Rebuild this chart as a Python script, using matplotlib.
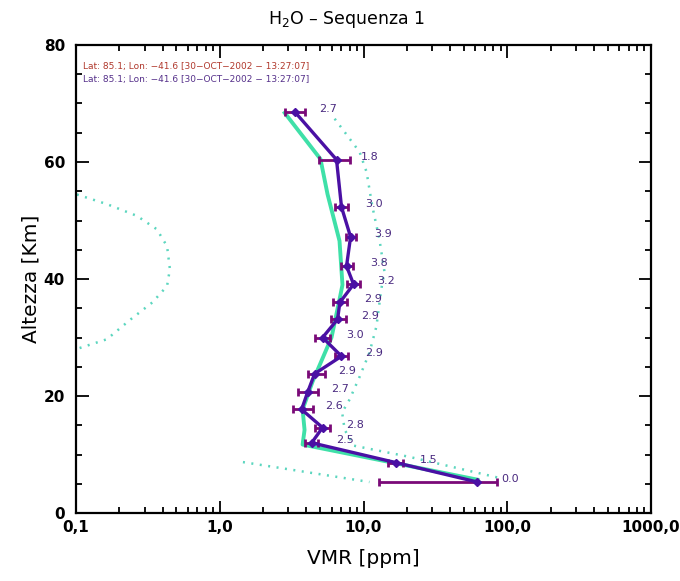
import numpy as np
import matplotlib
matplotlib.use("Agg")
import matplotlib.pyplot as plt
from matplotlib.ticker import FixedLocator, FixedFormatter, LogLocator, MultipleLocator, NullFormatter

# ---------------- data ----------------
# retrieved profile (purple)
ret_alt = [68.6, 60.4, 52.3, 47.2, 42.2, 39.1, 36.0, 33.1, 30.0, 26.8, 23.8, 20.6, 17.7, 14.6, 12.0, 8.6, 5.3]
ret_vmr = [3.32, 6.49, 7.03, 8.13, 7.62, 8.53, 6.85, 6.60, 5.19, 7.03, 4.57, 4.08, 3.71, 5.19, 4.36, 16.9, 61.9]
ret_lo  = [2.83, 4.94, 6.29, 7.50, 6.92, 7.62, 6.10, 5.90, 4.57, 6.29, 4.08, 3.48, 3.21, 4.57, 3.89, 14.7, 12.9]
ret_hi  = [3.94, 8.00, 7.74, 8.80, 8.39, 9.38, 7.62, 7.50, 5.81, 7.74, 5.36, 4.80, 4.43, 5.81, 4.80, 18.7, 85.3]
ret_lbl = ["2.7", "1.8", "3.0", "3.9", "3.8", "3.2", "2.9", "2.9", "3.0", "2.9", "2.9", "2.7", "2.6", "2.8", "2.5", "1.5", "0.0"]

# reference profile (turquoise solid)
ref_alt = [68.4, 60.5, 54.5, 46.5, 39.0, 36.5, 30.0, 22.5, 17.7, 14.2, 11.7, 5.7]
ref_vmr = [2.83, 5.02, 5.62, 6.81, 7.14, 6.81, 5.99, 4.43, 3.77, 3.89, 3.77, 62.0]

# upper envelope (turquoise dotted, right)
up_alt = [67.4, 61.7, 58.3, 52.5, 46.8, 41.2, 38.3, 31.9, 27.4, 23.3, 19.4, 17.2, 14.2, 11.5, 9.6, 6.0]
up_vmr = [6.3, 9.4, 10.5, 11.5, 12.9, 14.0, 13.3, 12.3, 11.0, 9.4, 8.0, 7.1, 7.4, 8.6, 20.8, 88.0]

# lower envelope (turquoise dotted, left) - two visible pieces
lo1_alt = [56.0, 54.5, 52.8, 50.8, 48.5, 45.6, 41.7, 38.8, 36.0, 33.1, 29.7, 28.0, 26.5]
lo1_vmr = [0.06, 0.10, 0.164, 0.265, 0.365, 0.43, 0.45, 0.43, 0.34, 0.24, 0.164, 0.10, 0.06]
lo2_alt = [8.7, 5.3]
lo2_vmr = [1.45, 11.0]

xtick_vals = [0.1, 1.0, 10.0, 100.0, 1000.0]
xtick_lbls = ["0,1", "1,0", "10,0", "100,0", "1000,0"]
ytick_vals = [0, 20, 40, 60, 80]

legend_lines = ["Lat: 85.1; Lon: \u221241.6 [30\u2212OCT\u22122002 \u2212 13:27:07]",
                "Lat: 85.1; Lon: \u221241.6 [30\u2212OCT\u22122002 \u2212 13:27:07]"]

# ---------------- style ----------------
C_RET = "#4a10a4"
C_ERR = "#7a0a78"
C_REF = "#3fe0a8"
C_DOT = "#5cd6bf"
C_LBL = "#4a2a80"

fig = plt.figure(figsize=(6.8, 5.81), dpi=100)
ax = fig.add_axes([76/680, 1 - 513/581, (651 - 76)/680, (513 - 45)/581])
ax.set_xscale("log")
ax.set_xlim(0.1, 1000)
ax.set_ylim(0, 80)

dot = (0, (0.8, 2.6))
ax.plot(up_vmr, up_alt, color=C_DOT, lw=1.8, ls=dot)
ax.plot(lo1_vmr, lo1_alt, color=C_DOT, lw=1.8, ls=dot)
ax.plot(lo2_vmr, lo2_alt, color=C_DOT, lw=1.8, ls=dot)

ax.plot(ref_vmr, ref_alt, color=C_REF, lw=2.8, zorder=3)

v = np.array(ret_vmr)
xerr = [v - np.array(ret_lo), np.array(ret_hi) - v]
ax.errorbar(ret_vmr, ret_alt, xerr=xerr, fmt="none", ecolor=C_ERR, elinewidth=2.0,
            capsize=3.0, capthick=2.0, zorder=4)
ax.plot(ret_vmr, ret_alt, color=C_RET, lw=2.4, marker="D", ms=4, mfc=C_RET, mec=C_RET, zorder=5)

for xv, yv, t in zip(ret_vmr, ret_alt, ret_lbl):
    ax.annotate(t, (xv, yv), xytext=(24, 3), textcoords="offset pixels",
                fontsize=8, color=C_LBL, ha="left", va="center", zorder=6)

# axes styling
ax.xaxis.set_major_locator(FixedLocator(xtick_vals))
ax.xaxis.set_major_formatter(FixedFormatter(xtick_lbls))
ax.xaxis.set_minor_locator(LogLocator(base=10, subs=np.arange(2, 10)))
ax.xaxis.set_minor_formatter(NullFormatter())
ax.yaxis.set_major_locator(FixedLocator(ytick_vals))
ax.yaxis.set_minor_locator(MultipleLocator(5))
ax.tick_params(which="both", direction="in", top=True, right=True, width=1.3, color="black")
ax.tick_params(which="major", length=9, labelsize=11)
ax.tick_params(axis="x", which="major", pad=5)
ax.tick_params(axis="y", which="major", pad=8)
ax.tick_params(which="minor", length=4.5)
for s in ax.spines.values():
    s.set_linewidth(1.6)
for lab in ax.get_xticklabels() + ax.get_yticklabels():
    lab.set_fontweight("bold")

ax.set_xlabel("VMR [ppm]", fontsize=14.5, labelpad=10)
ax.set_ylabel("Altezza [Km]", fontsize=14.5, labelpad=2)
fig.text(347/680, 1 - 19/581, "H$_2$O \u2013 Sequenza 1", fontsize=12.5, ha="center", va="center")

ax.text(0.012, 0.955, legend_lines[0], transform=ax.transAxes, fontsize=6.5, color="#b0382c",
        ha="left", va="center")
ax.text(0.012, 0.927, legend_lines[1], transform=ax.transAxes, fontsize=6.5, color="#55308a",
        ha="left", va="center")

fig.savefig("out.png", dpi=100)
